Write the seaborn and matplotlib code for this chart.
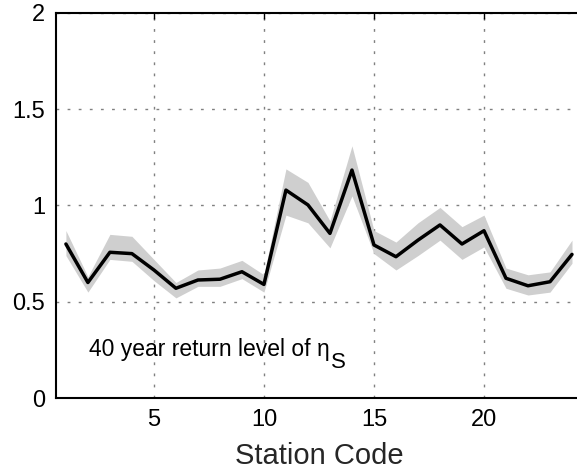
import matplotlib
matplotlib.use("Agg")
import matplotlib.pyplot as plt
import seaborn as sns
import pandas as pd

stations = list(range(1, 25))
level = [0.80, 0.60, 0.757, 0.75, 0.665, 0.57, 0.613, 0.617, 0.656, 0.59,
         1.08, 1.003, 0.855, 1.184, 0.795, 0.734, 0.82, 0.899, 0.80, 0.869,
         0.622, 0.583, 0.604, 0.746]
upper = [0.87, 0.63, 0.85, 0.84, 0.72, 0.60, 0.665, 0.675, 0.715, 0.64,
         1.19, 1.12, 0.92, 1.31, 0.87, 0.81, 0.91, 0.99, 0.89, 0.95,
         0.675, 0.64, 0.655, 0.82]
lower = [0.74, 0.55, 0.72, 0.71, 0.61, 0.52, 0.58, 0.58, 0.62, 0.55,
         0.95, 0.91, 0.78, 1.05, 0.75, 0.665, 0.74, 0.82, 0.72, 0.785,
         0.57, 0.535, 0.55, 0.70]
xticks = [5, 10, 15, 20]
yticks = [0, 0.5, 1, 1.5, 2]
yticklabels = ["0", "0.5", "1", "1.5", "2"]

sns.set_style("white")
plt.rcParams['font.family'] = ['Liberation Sans', 'DejaVu Sans']

df = pd.DataFrame({"station": stations, "level": level})

fig = plt.figure(figsize=(5.77, 4.69), dpi=100)
ax = fig.add_axes([56/577, 71/469, 527/577, 385/469])

ax.fill_between(stations, lower, upper, color="#cfcfcf", linewidth=0, zorder=1)
sns.lineplot(data=df, x="station", y="level", ax=ax, color="black",
             linewidth=2.5, zorder=3)

ax.set_xlim(0.55, 24.5)
ax.set_ylim(0, 2)
ax.set_xticks(xticks)
ax.set_yticks(yticks)
ax.set_yticklabels(yticklabels)
ax.tick_params(direction="in", length=4, width=1, labelsize=17, colors="black",
               top=True, right=True, pad=8)
ax.grid(True, linestyle=(0, (2, 6)), color="#808080", linewidth=1)
for s in ax.spines.values():
    s.set_color("black")
    s.set_linewidth(1.5)

ax.set_xlabel("Station Code", fontsize=21, labelpad=8)
ax.set_ylabel("")
t = ax.text(2.05, 0.25, "40 year return level of \u03b7", fontsize=16.5,
            va="center", ha="left", color="black")
fig.canvas.draw()
bb = t.get_window_extent()
x_end = ax.transData.inverted().transform((bb.x1, bb.y0))[0]
ax.annotate("S", xy=(x_end, 0.25), xytext=(1, -9), textcoords="offset points",
            fontsize=16, va="center", ha="left", color="black")

fig.savefig("out.png", dpi=100)
